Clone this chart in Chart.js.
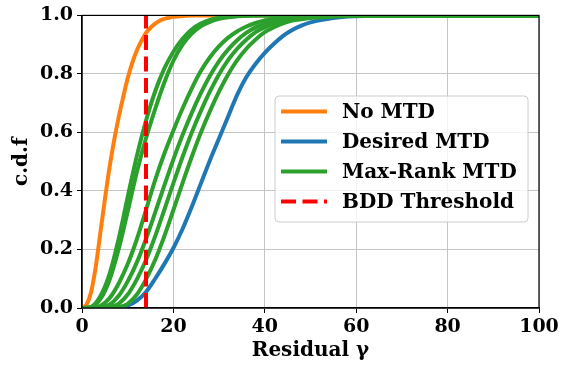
<!DOCTYPE html>
<html>
<head>
<meta charset="utf-8">
<script src="https://cdn.jsdelivr.net/npm/chart.js@4.4.0/dist/chart.umd.min.js"></script>
<style>
  body { margin: 0; background: #fff; }
  canvas { display: block; }
</style>
</head>
<body>
<canvas id="cdf-chart" width="563" height="366"></canvas>
<script>
// residual grids and the cdf of each curve on them
const residualFine = [0, 1, 2, 3, 4, 5, 6, 7, 8, 9, 10, 11, 12, 13, 14, 15, 16, 17, 18, 19, 20, 22, 24, 26, 100];
const noMtdCdf = [0, 0.012, 0.055, 0.14, 0.255, 0.37, 0.478, 0.57, 0.65, 0.72, 0.785, 0.838, 0.88, 0.913, 0.94,
    0.958, 0.972, 0.982, 0.988, 0.992, 0.995, 0.998, 0.9995, 1, 1];

const residualGrid = [0, 2, 4, 6, 8, 10, 12, 14, 16, 18, 20, 22, 24, 26, 28, 30, 32, 34, 36, 38, 40, 42, 44, 46, 48, 50,
    55, 60, 65, 70, 100];
const desiredMtdCdf = [0, 0, 0, 0, 0.002, 0.008, 0.025, 0.055, 0.1, 0.15, 0.205, 0.27, 0.345, 0.425, 0.505, 0.58,
    0.655, 0.73, 0.79, 0.835, 0.872, 0.903, 0.93, 0.95, 0.965, 0.976, 0.991, 0.997, 0.999, 1, 1];
const maxRankCdfs = [
    [0, 0.004, 0.04, 0.115, 0.235, 0.38, 0.52, 0.64, 0.74, 0.818, 0.876, 0.92, 0.952, 0.972, 0.985, 0.992,
        0.996, 0.998, 0.999, 1, 1, 1, 1, 1, 1, 1, 1, 1, 1, 1, 1],
    [0, 0.002, 0.03, 0.095, 0.2, 0.33, 0.465, 0.58, 0.68, 0.77, 0.845, 0.9, 0.938, 0.963, 0.978, 0.988,
        0.994, 0.997, 0.999, 1, 1, 1, 1, 1, 1, 1, 1, 1, 1, 1, 1],
    [0, 0.0005, 0.007, 0.033, 0.083, 0.15, 0.235, 0.335, 0.437, 0.527, 0.607, 0.682, 0.75, 0.81, 0.857, 0.895,
        0.924, 0.946, 0.962, 0.974, 0.983, 0.989, 0.993, 0.996, 0.998, 0.999, 1, 1, 1, 1, 1],
    [0, 0, 0.002, 0.011, 0.041, 0.091, 0.156, 0.236, 0.326, 0.418, 0.508, 0.591, 0.666, 0.734, 0.794, 0.844,
        0.884, 0.916, 0.941, 0.959, 0.972, 0.981, 0.987, 0.991, 0.994, 0.996, 0.999, 1, 1, 1, 1],
    [0, 0, 0, 0.003, 0.014, 0.046, 0.098, 0.164, 0.245, 0.335, 0.427, 0.516, 0.599, 0.673, 0.74, 0.799,
        0.848, 0.887, 0.918, 0.943, 0.96, 0.973, 0.982, 0.987, 0.991, 0.994, 0.998, 0.9995, 1, 1, 1],
    [0, 0, 0, 0, 0.003, 0.014, 0.046, 0.098, 0.164, 0.245, 0.335, 0.427, 0.516, 0.599, 0.673, 0.74,
        0.799, 0.848, 0.887, 0.918, 0.943, 0.96, 0.973, 0.982, 0.987, 0.991, 0.996, 0.999, 1, 1, 1]
];
const bddThreshold = 14;
const xTicks = [0, 20, 40, 60, 80, 100];
const yTicks = [0, 0.2, 0.4, 0.6, 0.8, 1.0];

const FONT = 'DejaVu Serif';

function points(xs, ys) {
    return xs.map((x, i) => ({ x, y: ys[i] }));
}

function lineSet(label, data, color, order) {
    return {
        label, data, order,
        borderColor: color,
        borderWidth: 4,
        pointRadius: 0,
        fill: false,
        cubicInterpolationMode: 'monotone'
    };
}

const datasets = [
    lineSet('No MTD', points(residualFine, noMtdCdf), '#ff7f0e', 3),
    lineSet('Desired MTD', points(residualGrid, desiredMtdCdf), '#1f77b4', 2)
];
maxRankCdfs.forEach(c => datasets.push(lineSet('Max-Rank MTD', points(residualGrid, c), '#2ca02c', 1)));
datasets.push({
    label: 'BDD Threshold',
    data: [{ x: bddThreshold, y: 0 }, { x: bddThreshold, y: 1 }],
    borderColor: '#ff0000',
    borderWidth: 4,
    borderDash: [15, 6.5],
    pointRadius: 0,
    order: 0
});

// axes box and legend, drawn like the matplotlib original
const boxAndLegend = {
    id: 'boxAndLegend',
    afterDraw(chart) {
        const ctx = chart.ctx;
        const a = chart.chartArea;
        ctx.save();
        ctx.strokeStyle = '#000';
        ctx.lineWidth = 1.2;
        ctx.strokeRect(a.left, a.top, a.right - a.left, a.bottom - a.top);

        const seen = {};
        const items = chart.data.datasets.filter(d => {
            if (seen[d.label]) return false;
            seen[d.label] = true;
            return true;
        });
        const bx = 275, by = 96, bw = 253, bh = 126, r = 4;
        ctx.beginPath();
        ctx.roundRect(bx, by, bw, bh, r);
        ctx.fillStyle = 'rgba(255,255,255,0.8)';
        ctx.fill();
        ctx.strokeStyle = '#cccccc';
        ctx.lineWidth = 1;
        ctx.stroke();

        ctx.font = `bold 20px "${FONT}"`;
        ctx.textBaseline = 'middle';
        ctx.textAlign = 'left';
        items.forEach((d, i) => {
            const y = 111.5 + i * 30;
            ctx.beginPath();
            ctx.strokeStyle = d.borderColor;
            ctx.lineWidth = 4;
            ctx.setLineDash(d.borderDash || []);
            ctx.moveTo(281, y);
            ctx.lineTo(327, y);
            ctx.stroke();
            ctx.setLineDash([]);
            ctx.fillStyle = '#000';
            ctx.fillText(d.label, 342, y + 1);
        });
        ctx.restore();
    }
};

new Chart(document.getElementById('cdf-chart'), {
    type: 'line',
    data: { datasets },
    plugins: [boxAndLegend],
    options: {
        responsive: false,
        animation: false,
        devicePixelRatio: 1,
        layout: { padding: { left: 0, right: 24, top: 10, bottom: 0 } },
        plugins: { legend: { display: false }, tooltip: { enabled: false } },
        scales: {
            x: {
                type: 'linear',
                min: 0, max: 100,
                afterFit: s => { s.height = 58; },
                afterBuildTicks: s => { s.ticks = xTicks.map(v => ({ value: v })); },
                grid: { color: '#c4c4c4', lineWidth: 1, tickColor: '#000', tickLength: 5 },
                border: { color: '#000', width: 1.2 },
                ticks: {
                    color: '#000', padding: 3, maxRotation: 0,
                    font: { family: FONT, size: 19, weight: 'bold' }
                },
                title: {
                    display: true, text: 'Residual γ', color: '#000',
                    padding: { top: 0, bottom: 3.5 },
                    font: { family: FONT, size: 20, weight: 'bold' }
                }
            },
            y: {
                type: 'linear',
                min: 0, max: 1,
                afterFit: s => { s.width = 82; },
                afterBuildTicks: s => { s.ticks = yTicks.map(v => ({ value: v })); },
                grid: { color: '#c4c4c4', lineWidth: 1, tickColor: '#000', tickLength: 5 },
                border: { color: '#000', width: 1.2 },
                ticks: {
                    color: '#000', padding: 4,
                    callback: v => v.toFixed(1),
                    font: { family: FONT, size: 19, weight: 'bold' }
                },
                title: {
                    display: true, text: 'c.d.f', color: '#000',
                    padding: { top: 9.5, bottom: 0 },
                    font: { family: FONT, size: 20, weight: 'bold' }
                }
            }
        }
    }
});
</script>
</body>
</html>
